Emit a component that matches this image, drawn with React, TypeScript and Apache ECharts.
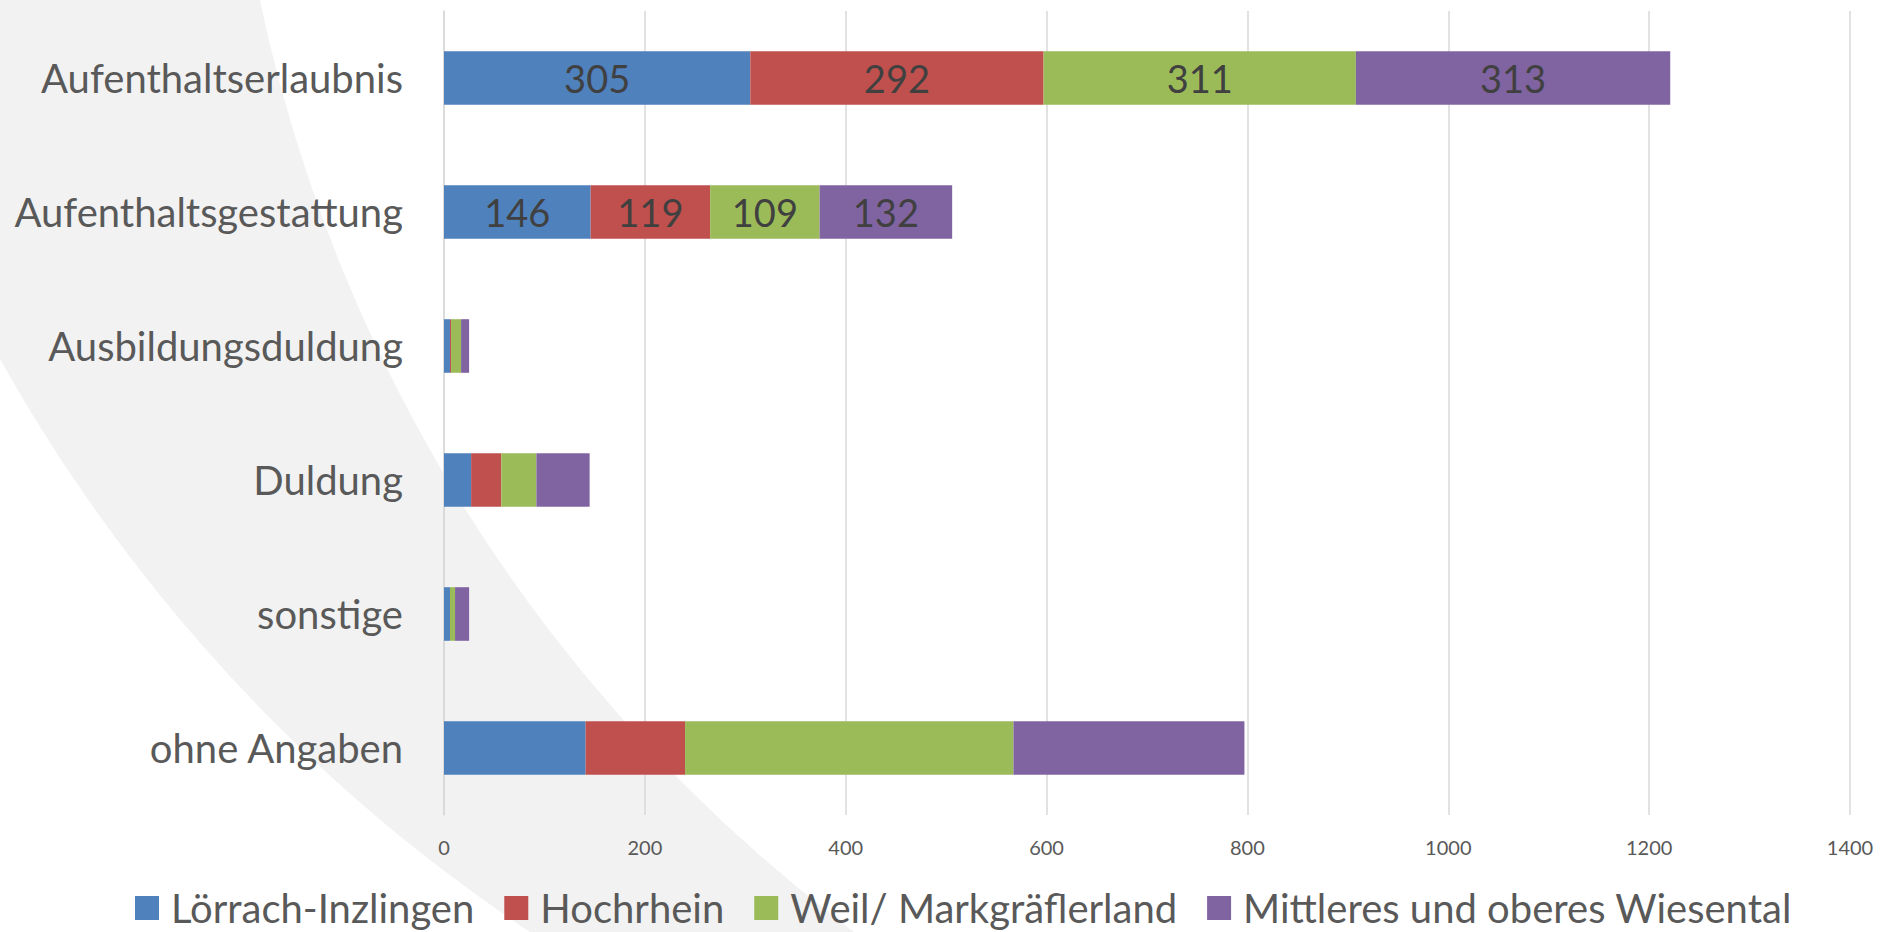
import React, { useEffect, useRef } from "react";
import * as echarts from "echarts";

const categories = [
  "Aufenthaltserlaubnis",
  "Aufenthaltsgestattung",
  "Ausbildungsduldung",
  "Duldung",
  "sonstige",
  "ohne Angaben",
];
const seriesNames = [
  "Lörrach-Inzlingen",
  "Hochrhein",
  "Weil/ Markgräflerland",
  "Mittleres und oberes Wiesental",
];
const loerrach = [305, 146, 6, 27, 6, 141];
const hochrhein = [292, 119, 1, 30, 0, 99];
const weil = [311, 109, 10, 35, 5, 327];
const wiesental = [313, 132, 8, 53, 14, 230];
const labeledCategories = ["Aufenthaltserlaubnis", "Aufenthaltsgestattung"];
const xTicks = { min: 0, max: 1400, interval: 200 };

const colors = ["#4f81bd", "#c0504d", "#9bbb59", "#8064a2"];
const FONT = "Lato";

export default function App() {
  const ref = useRef<HTMLDivElement>(null);
  useEffect(() => {
    if (!ref.current) return;
    const chart = echarts.init(ref.current, undefined, { renderer: "svg" });
    const allValues = [loerrach, hochrhein, weil, wiesental];
    const series = allValues.map((vals, si) => ({
      name: seriesNames[si],
      type: "bar",
      stack: "total",
      barWidth: "40%",
      itemStyle: { color: colors[si] },
      data: vals.map((v, i) => ({
        value: v,
        label: {
          show: labeledCategories.includes(categories[i]),
          position: "inside",
          color: "#404040",
          fontFamily: FONT,
          fontSize: 38,
        },
      })),
    }));
    chart.setOption({
      animation: false,
      backgroundColor: "#ffffff",
      graphic: [
        {
          type: "circle",
          z: -10,
          silent: true,
          shape: { cx: 1449, cy: -449, r: 1659 },
          style: { fill: "#f2f2f2" },
        },
        {
          type: "circle",
          z: -9,
          silent: true,
          shape: { cx: 1796, cy: -324, r: 1570 },
          style: { fill: "#ffffff" },
        },
      ],
      grid: { left: 444, right: 35, top: 11, bottom: 117, containLabel: false },
      legend: {
        top: 882,
        left: 130,
        itemWidth: 24,
        itemHeight: 24,
        itemGap: 30,
        icon: "rect",
        textStyle: {
          fontFamily: FONT,
          fontSize: 40,
          lineHeight: 42,
          color: "#595959",
          padding: [0, 0, 0, 7],
        },
        data: seriesNames,
      },
      xAxis: {
        type: "value",
        min: xTicks.min,
        max: xTicks.max,
        interval: xTicks.interval,
        axisLine: { show: false },
        axisTick: { show: false },
        splitLine: { lineStyle: { color: "#d9d9d9", width: 1.5 } },
        axisLabel: {
          fontFamily: FONT,
          fontSize: 20,
          color: "#595959",
          margin: 22,
          formatter: (v: number) => String(v),
        },
      },
      yAxis: {
        type: "category",
        inverse: true,
        data: categories,
        axisLine: { show: true, lineStyle: { color: "#d9d9d9", width: 1.5 } },
        axisTick: { show: false },
        axisLabel: {
          fontFamily: FONT,
          fontSize: 40,
          color: "#595959",
          margin: 41,
          padding: [0, 0, 10, 0],
        },
      },
      series,
    });
    return () => chart.dispose();
  }, []);
  return (
    <div
      ref={ref}
      style={{ position: "fixed", left: 0, top: 0, width: 1885, height: 932 }}
    />
  );
}
